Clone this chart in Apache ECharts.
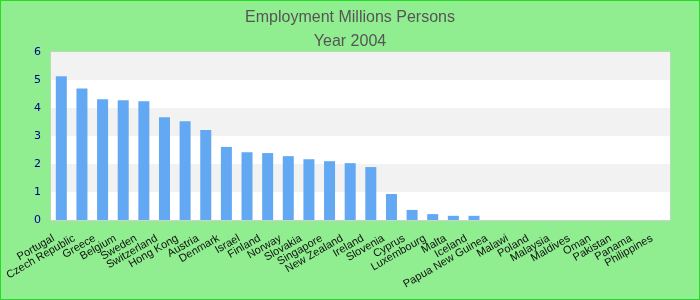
<!DOCTYPE html>
<html><head><meta charset="utf-8">
<script src="https://cdn.jsdelivr.net/npm/echarts@6/dist/echarts.min.js"></script>
<style>html,body{margin:0;padding:0;}#c{width:700px;height:300px;box-sizing:border-box;border:1px solid #22dd22;}</style>
</head><body><div id="c"></div>
<script>
const categories = ["Portugal","Czech Republic","Greece","Belgium","Sweden","Switzerland","Hong Kong","Austria","Denmark","Israel","Finland","Norway","Slovakia","Singapore","New Zealand","Ireland","Slovenia","Cyprus","Luxembourg","Malta","Iceland","Papua New Guinea","Malawi","Poland","Malaysia","Maldives","Oman","Pakistan","Panama","Philippines"];
const employment = [5.13,4.70,4.31,4.28,4.24,3.67,3.53,3.21,2.61,2.42,2.39,2.28,2.17,2.10,2.03,1.89,0.93,0.36,0.21,0.15,0.15,null,null,null,null,null,null,null,null,null];
const yTicks = [0,1,2,3,4,5,6];
const titleText = "Employment Millions Persons";
const subtitleText = "Year 2004";

const chart = echarts.init(document.getElementById('c'), null, {renderer:'canvas'});
chart.setOption({
  backgroundColor: '#90ee90',
  animation: false,
  title: [
    {text: titleText, left: 'center', top: 4, textStyle: {fontFamily: 'Liberation Sans, Arial', fontWeight: 'normal', fontSize: 16, color: '#555'}},
    {text: subtitleText, left: 'center', top: 28, textStyle: {fontFamily: 'Liberation Sans, Arial', fontWeight: 'normal', fontSize: 16, color: '#555'}}
  ],
  grid: {left: 50, right: 29, top: 51, bottom: 79, show: true, borderColor: '#d0d0d0', borderWidth: 1, backgroundColor: 'transparent'},
  xAxis: {
    type: 'category', data: categories,
    axisLine: {show: true, lineStyle: {color: '#d0d0d0'}},
    axisTick: {show: false},
    axisLabel: {interval: 0, rotate: 30, color: '#111', fontFamily: 'Liberation Sans, Arial', fontSize: 11, margin: 13, padding: [0, 9, 0, 0]}
  },
  yAxis: {
    type: 'value', min: yTicks[0], max: yTicks[yTicks.length-1], interval: 1,
    axisLine: {show: false}, axisTick: {show: false},
    splitLine: {show: false},
    splitArea: {show: true, areaStyle: {color: ['#ffffff', '#f2f2f2']}},
    axisLabel: {color: '#00008b', fontFamily: 'DejaVu Sans', fontSize: 11, margin: 10}
  },
  series: [{
    type: 'bar', data: employment, barWidth: 11,
    itemStyle: {color: '#62a8f2'}
  }]
});
</script></body></html>
